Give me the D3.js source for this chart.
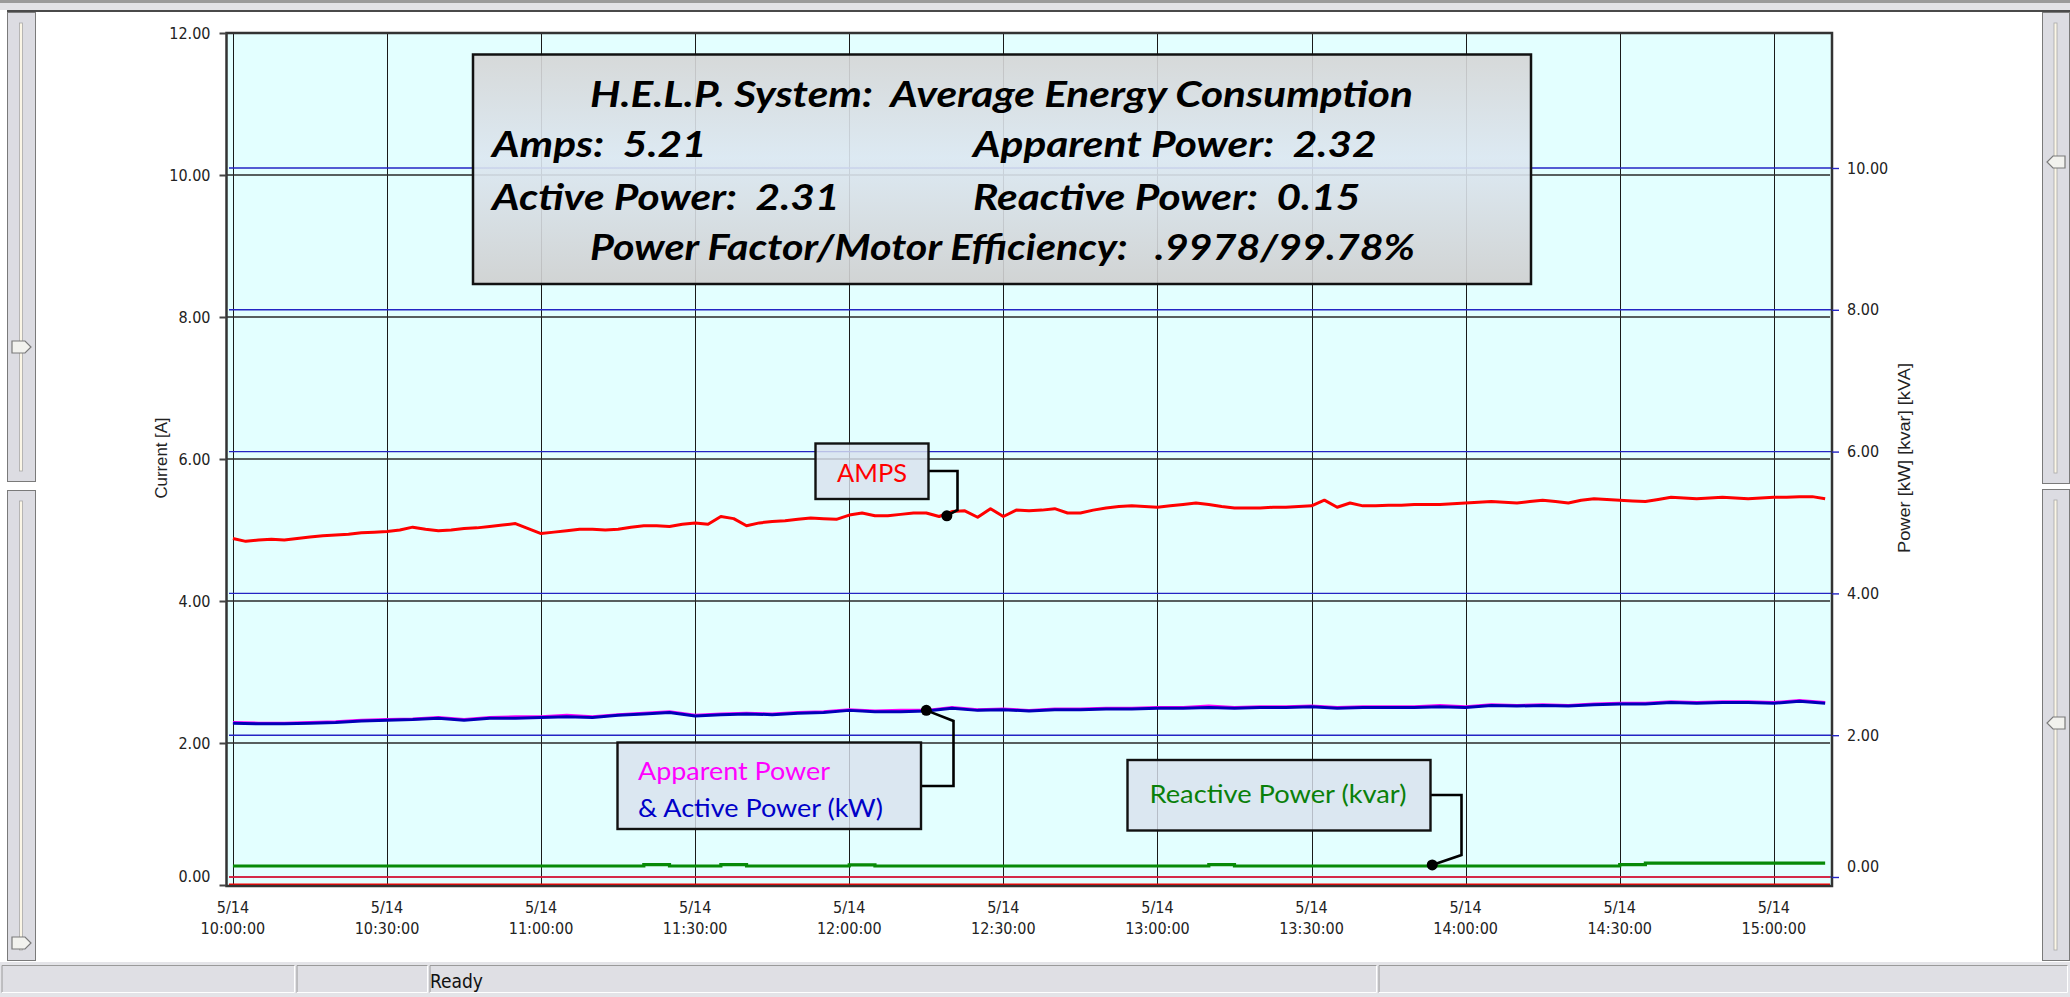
<!DOCTYPE html>
<html>
<head>
<meta charset="utf-8">
<script src="https://cdn.jsdelivr.net/npm/d3@7"></script>
<style>
  html, body { margin: 0; padding: 0; background: #fff; overflow: hidden; }
  svg { display: block; }
</style>
</head>
<body>
<script>
// values, 5/14 from 10:00 to about 15:10
const day = "2013-05-14";
const startTime = "10:00:00";

// current [A], one sample every 2.5 min
const ampsStepMinutes = 2.5;
const amps = [
  4.88, 4.84, 4.86, 4.87, 4.86, 4.88, 4.90, 4.92, 4.93, 4.94,
  4.96, 4.97, 4.98, 5.00, 5.04, 5.01, 4.99, 5.00, 5.02, 5.03,
  5.05, 5.07, 5.09, 5.02, 4.95, 4.97, 4.99, 5.01, 5.01, 5.00,
  5.01, 5.04, 5.06, 5.06, 5.05, 5.08, 5.10, 5.08, 5.19, 5.16,
  5.06, 5.10, 5.12, 5.13, 5.15, 5.17, 5.16, 5.15, 5.21, 5.24,
  5.20, 5.20, 5.22, 5.24, 5.24, 5.19, 5.26, 5.27, 5.18, 5.30,
  5.19, 5.28, 5.27, 5.28, 5.30, 5.24, 5.24, 5.28, 5.31, 5.33,
  5.34, 5.33, 5.32, 5.34, 5.36, 5.38, 5.36, 5.33, 5.31, 5.31,
  5.31, 5.32, 5.32, 5.33, 5.34, 5.42, 5.32, 5.38, 5.34, 5.34,
  5.35, 5.35, 5.36, 5.36, 5.36, 5.37, 5.38, 5.39, 5.40, 5.39,
  5.38, 5.40, 5.42, 5.40, 5.38, 5.42, 5.44, 5.43, 5.42, 5.41,
  5.40, 5.43, 5.46, 5.45, 5.44, 5.45, 5.46, 5.45, 5.44, 5.45,
  5.46, 5.46, 5.47, 5.47, 5.44
];

// power [kW] [kVA] [kvar], one sample every 5 min
const powerStepMinutes = 5;
const activePower = [
  2.17, 2.16, 2.16, 2.17, 2.18, 2.20, 2.21, 2.22, 2.24, 2.21,
  2.24, 2.24, 2.25, 2.26, 2.25, 2.28, 2.30, 2.32, 2.27, 2.29,
  2.30, 2.29, 2.31, 2.32, 2.35, 2.33, 2.33, 2.34, 2.38, 2.35,
  2.36, 2.34, 2.36, 2.36, 2.37, 2.37, 2.38, 2.38, 2.39, 2.38,
  2.39, 2.39, 2.40, 2.38, 2.39, 2.39, 2.39, 2.40, 2.39, 2.42,
  2.41, 2.42, 2.41, 2.43, 2.44, 2.44, 2.46, 2.45, 2.46, 2.46,
  2.45, 2.48, 2.45
];
const apparentPower = [
  2.18, 2.17, 2.17, 2.18, 2.19, 2.21, 2.22, 2.23, 2.25, 2.22,
  2.25, 2.26, 2.26, 2.28, 2.26, 2.29, 2.31, 2.33, 2.28, 2.30,
  2.31, 2.30, 2.32, 2.33, 2.36, 2.34, 2.35, 2.35, 2.39, 2.36,
  2.37, 2.35, 2.37, 2.37, 2.38, 2.38, 2.39, 2.39, 2.41, 2.39,
  2.40, 2.40, 2.41, 2.39, 2.40, 2.40, 2.40, 2.42, 2.40, 2.43,
  2.42, 2.43, 2.42, 2.44, 2.45, 2.45, 2.47, 2.46, 2.47, 2.47,
  2.46, 2.49, 2.46
];
const reactivePower = [
  0.155, 0.155, 0.155, 0.155, 0.155, 0.155, 0.155, 0.155, 0.155, 0.155,
  0.155, 0.155, 0.155, 0.155, 0.155, 0.155, 0.175, 0.155, 0.155, 0.175,
  0.155, 0.155, 0.155, 0.155, 0.170, 0.155, 0.155, 0.155, 0.155, 0.155,
  0.155, 0.155, 0.155, 0.155, 0.155, 0.155, 0.155, 0.155, 0.175, 0.155,
  0.155, 0.155, 0.155, 0.155, 0.155, 0.155, 0.155, 0.155, 0.155, 0.155,
  0.155, 0.155, 0.155, 0.155, 0.175, 0.195, 0.195, 0.195, 0.195, 0.195,
  0.195, 0.195, 0.195
];

const leftTicks = [0, 2, 4, 6, 8, 10, 12];
const rightTicks = [0, 2, 4, 6, 8, 10];
const xTickTimes = ["10:00:00", "10:30:00", "11:00:00", "11:30:00", "12:00:00", "12:30:00",
                    "13:00:00", "13:30:00", "14:00:00", "14:30:00", "15:00:00"];
const xTickDate = "5/14";

const summaryTitle = "H.E.L.P. System:  Average Energy Consumption";
const summaryRows = [
  ["Amps:  5.21", "Apparent Power:  2.32"],
  ["Active Power:  2.31", "Reactive Power:  0.15"]
];
const summaryFooter = "Power Factor/Motor Efficiency:   .9978/99.78%";

// callout anchors on the curves (time, value)
const ampsCallout = { time: "12:19:00", value: 5.20 };
const powerCallout = { time: "12:15:00", value: 2.35 };
const reactiveCallout = { time: "13:53:30", value: 0.17 };

// ---------------------------------------------------------------
const width = 2070, height = 997;
const plot = { left: 226.5, right: 1832, top: 33, bottom: 886 };
const tickFont = "'Liberation Sans Narrow', 'DejaVu Sans Condensed', 'Liberation Sans', sans-serif";
const labelFont = "Lato, 'Open Sans', sans-serif";

const parse = d3.timeParse("%Y-%m-%d %H:%M:%S");
const at = s => parse(`${day} ${s}`);
const t0 = at(startTime);
const series = (vals, step) => vals.map((v, i) => ({ t: d3.timeSecond.offset(t0, Math.round(i * step * 60)), v }));

const ampsData = series(amps, ampsStepMinutes);
const activeData = series(activePower, powerStepMinutes);
const apparentData = series(apparentPower, powerStepMinutes);
const reactiveData = series(reactivePower, powerStepMinutes);

// scales
const x = d3.scaleTime()
  .domain([at("09:58:45"), at("15:11:20")])
  .range([plot.left, plot.right]);
const yL = d3.scaleLinear().domain([0, 12]).range([885, 33]);
const yR = d3.scaleLinear().domain([-0.113, 11.904]).range([885, 33]);

const svg = d3.select("body").append("svg")
  .attr("width", width)
  .attr("height", height)
  .attr("viewBox", [0, 0, width, height]);

const defs = svg.append("defs");
const grad = defs.append("linearGradient").attr("id", "boxGrad")
  .attr("x1", 0).attr("y1", 0).attr("x2", 0).attr("y2", 1);
grad.append("stop").attr("offset", "0%").attr("stop-color", "#d5d5d5");
grad.append("stop").attr("offset", "45%").attr("stop-color", "#dce7f1");
grad.append("stop").attr("offset", "100%").attr("stop-color", "#cfcfcf");

// ---- window chrome ----
svg.append("rect").attr("x", 0).attr("y", 0).attr("width", width).attr("height", 3).attr("fill", "#9a9a9a");
svg.append("rect").attr("x", 0).attr("y", 3).attr("width", width).attr("height", 7).attr("fill", "#e2e2e6");
svg.append("rect").attr("x", 7).attr("y", 10).attr("width", width - 7).attr("height", 2).attr("fill", "#4a4a4a");

function slider(g, x0, w, y0, y1, thumbY, pointRight) {
  g.append("rect").attr("x", x0 + 0.5).attr("y", y0 + 0.5).attr("width", w - 1).attr("height", y1 - y0 - 1)
    .attr("fill", "#dcdce2").attr("stroke", "#7a7a7a");
  const gx = x0 + w / 2 - 1;
  g.append("rect").attr("x", gx - 1).attr("y", y0 + 11).attr("width", 3).attr("height", y1 - y0 - 22)
    .attr("fill", "#fbf6e6").attr("stroke", "#a8a8a8").attr("stroke-width", 0.8);
  const a = x0 + 5, b = x0 + w - 5;
  const pts = pointRight
    ? [[a, thumbY - 6], [b - 6, thumbY - 6], [b, thumbY], [b - 6, thumbY + 6], [a, thumbY + 6]]
    : [[b, thumbY - 6], [a + 6, thumbY - 6], [a, thumbY], [a + 6, thumbY + 6], [b, thumbY + 6]];
  g.append("polygon").attr("points", pts.map(p => p.join(",")).join(" "))
    .attr("fill", "#f2f2ee").attr("stroke", "#7a7a7a").attr("stroke-width", 1.2);
}
const chrome = svg.append("g");
slider(chrome, 7, 29, 12, 482, 347, true);
slider(chrome, 7, 29, 490, 961, 943, true);
slider(chrome, 2042, 28, 12, 484, 162, false);
slider(chrome, 2042, 28, 489, 961, 723, false);

// status bar
chrome.append("rect").attr("x", 0).attr("y", 962).attr("width", width).attr("height", 35).attr("fill", "#e4e4e8");
[[2, 295], [297, 428], [430, 1377], [1379, 2068]].forEach(([a, b]) => {
  chrome.append("rect").attr("x", a).attr("y", 965).attr("width", b - a).attr("height", 28)
    .attr("fill", "#dfdfe4");
  chrome.append("path").attr("d", `M${a},992.5V965.5H${b}`).attr("fill", "none").attr("stroke", "#9a9a9a");
  chrome.append("path").attr("d", `M${b - 0.5},965.5V992.5H${a}`).attr("fill", "none").attr("stroke", "#ffffff");
});
chrome.append("text").attr("x", 430).attr("y", 988)
  .attr("font-family", tickFont).attr("font-size", 19).attr("fill", "#111").text("Ready");

// ---- plot area ----
svg.append("rect")
  .attr("x", plot.left).attr("y", plot.top)
  .attr("width", plot.right - plot.left).attr("height", plot.bottom - plot.top)
  .attr("fill", "#e3ffff");

// vertical grid
svg.append("g").selectAll("line").data(xTickTimes).join("line")
  .attr("x1", d => Math.round(x(at(d))) + 0.5).attr("x2", d => Math.round(x(at(d))) + 0.5)
  .attr("y1", plot.top).attr("y2", plot.bottom)
  .attr("stroke", "#1a1a1a").attr("stroke-width", 1);

// horizontal grid, current axis (black)
svg.append("g").selectAll("line").data(leftTicks.filter(d => d > 0 && d < 12)).join("line")
  .attr("x1", plot.left).attr("x2", plot.right - 2)
  .attr("y1", d => yL(d)).attr("y2", d => yL(d))
  .attr("stroke", "#2a2a2a").attr("stroke-width", 1.3);

// horizontal grid, power axis (blue)
svg.append("g").selectAll("line").data(rightTicks).join("line")
  .attr("x1", plot.left + 2.5).attr("x2", plot.right)
  .attr("y1", d => yR(d)).attr("y2", d => yR(d))
  .attr("stroke", "#2424c4").attr("stroke-width", 1.4);

// zero lines in red
svg.append("line")
  .attr("x1", plot.left + 2.5).attr("x2", plot.right - 2)
  .attr("y1", yR(0)).attr("y2", yR(0))
  .attr("stroke", "#ff1a1a").attr("stroke-width", 1.4);
svg.append("line")
  .attr("x1", plot.left + 2.5).attr("x2", plot.right - 2)
  .attr("y1", yL(0) - 0.5).attr("y2", yL(0) - 0.5)
  .attr("stroke", "#ff0000").attr("stroke-width", 2);

// series
const lineL = d3.line().x(d => x(d.t)).y(d => yL(d.v));
const lineR = d3.line().x(d => x(d.t)).y(d => yR(d.v));
const stepR = d3.line().x(d => x(d.t)).y(d => yR(d.v)).curve(d3.curveStepAfter);

svg.append("path").datum(apparentData).attr("d", lineR)
  .attr("fill", "none").attr("stroke", "#ff00ff").attr("stroke-width", 3).attr("stroke-linejoin", "round");
svg.append("path").datum(activeData).attr("d", lineR)
  .attr("fill", "none").attr("stroke", "#0000b8").attr("stroke-width", 3).attr("stroke-linejoin", "round");
svg.append("path").datum(reactiveData).attr("d", stepR)
  .attr("fill", "none").attr("stroke", "#078a07").attr("stroke-width", 3.2);
svg.append("path").datum(ampsData).attr("d", lineL)
  .attr("fill", "none").attr("stroke", "#ff0000").attr("stroke-width", 3).attr("stroke-linejoin", "round");

// frame
svg.append("rect")
  .attr("x", plot.left).attr("y", plot.top)
  .attr("width", plot.right - plot.left).attr("height", plot.bottom - plot.top)
  .attr("fill", "none").attr("stroke", "#333").attr("stroke-width", 2.5);

// left axis
svg.append("g")
  .attr("transform", `translate(${plot.left},0)`)
  .call(d3.axisLeft(yL).tickValues(leftTicks).tickFormat(d3.format(".2f")).tickSize(7).tickPadding(9))
  .call(g => g.select(".domain").remove())
  .call(g => g.selectAll(".tick line").attr("stroke", "#444").attr("stroke-width", 2))
  .call(g => g.selectAll(".tick text")
    .attr("font-family", tickFont).attr("font-size", 16).attr("fill", "#222"))
  .call(g => g.selectAll(".tick text").filter(d => d === 0).attr("dy", "-0.2em"));

// right axis
svg.append("g")
  .attr("transform", `translate(${plot.right},0)`)
  .call(d3.axisRight(yR).tickValues(rightTicks).tickFormat(d3.format(".2f")).tickSize(7).tickPadding(8))
  .call(g => g.select(".domain").remove())
  .call(g => g.selectAll(".tick line").attr("stroke", "#2424c4").attr("stroke-width", 1.4))
  .call(g => g.selectAll(".tick text")
    .attr("font-family", tickFont).attr("font-size", 16).attr("fill", "#222"))
  .call(g => g.selectAll(".tick text").filter(d => d === 0).attr("dy", "-0.33em"));

// time axis labels
const xl = svg.append("g")
  .attr("font-family", tickFont).attr("font-size", 16).attr("fill", "#222")
  .attr("text-anchor", "middle")
  .selectAll("text").data(xTickTimes).join("text")
  .attr("transform", d => `translate(${x(at(d))},0)`);
xl.append("tspan").attr("x", 0).attr("y", 913).text(xTickDate);
xl.append("tspan").attr("x", 0).attr("y", 934).text(d => d);

// axis titles
svg.append("text")
  .attr("transform", "translate(167,458) rotate(-90)")
  .attr("text-anchor", "middle")
  .attr("font-family", "'Liberation Sans', Arial, sans-serif").attr("font-size", 16).attr("fill", "#222")
  .attr("textLength", 81).attr("lengthAdjust", "spacingAndGlyphs")
  .text("Current [A]");
svg.append("text")
  .attr("transform", "translate(1910,458) rotate(-90)")
  .attr("text-anchor", "middle")
  .attr("font-family", "'Liberation Sans', Arial, sans-serif").attr("font-size", 16).attr("fill", "#222")
  .attr("textLength", 190).attr("lengthAdjust", "spacingAndGlyphs")
  .text("Power [kW] [kvar] [kVA]");

// ---- callouts ----
function callout(box, lines, elbow, anchor) {
  const g = svg.append("g");
  g.append("path")
    .attr("d", `M${box.x + box.w},${elbow.y0}H${elbow.x}V${elbow.y1}L${anchor[0]},${anchor[1]}`)
    .attr("fill", "none").attr("stroke", "#000").attr("stroke-width", 2.6);
  g.append("circle").attr("cx", anchor[0]).attr("cy", anchor[1]).attr("r", 5.5).attr("fill", "#000");
  g.append("rect").attr("x", box.x).attr("y", box.y).attr("width", box.w).attr("height", box.h)
    .attr("fill", "#d9e2ee").attr("fill-opacity", 0.82)
    .attr("stroke", "#111").attr("stroke-width", 2.4);
  lines.forEach(l => {
    g.append("text")
      .attr("x", l.x).attr("y", l.y)
      .attr("text-anchor", l.anchor || "start")
      .attr("font-family", labelFont).attr("font-size", 25).attr("fill", l.color)
      .attr("textLength", l.len).attr("lengthAdjust", "spacingAndGlyphs")
      .text(l.text);
  });
}

callout({ x: 815.5, y: 443.5, w: 113, h: 55.5 },
  [{ text: "AMPS", x: 872, y: 482, len: 70, anchor: "middle", color: "#ff0000" }],
  { y0: 471, x: 957.5, y1: 510 },
  [x(at(ampsCallout.time)), yL(ampsCallout.value)]);

callout({ x: 617.5, y: 742.5, w: 303.5, h: 86.5 },
  [{ text: "Apparent Power", x: 638, y: 780, len: 192, color: "#ff00ff" },
   { text: "& Active Power (kW)", x: 638, y: 817, len: 245, color: "#0000c8" }],
  { y0: 786, x: 953.5, y1: 721 },
  [x(at(powerCallout.time)), yR(powerCallout.value)]);

callout({ x: 1127.5, y: 760, w: 303, h: 70.5 },
  [{ text: "Reactive Power (kvar)", x: 1278, y: 803, len: 257, anchor: "middle", color: "#0a800a" }],
  { y0: 795, x: 1461.5, y1: 855 },
  [x(at(reactiveCallout.time)), yR(reactiveCallout.value)]);

// ---- summary box ----
const sb = svg.append("g");
sb.append("rect").attr("x", 473).attr("y", 54.5).attr("width", 1058).attr("height", 229.5)
  .attr("fill", "url(#boxGrad)").attr("fill-opacity", 0.9)
  .attr("stroke", "#111").attr("stroke-width", 2.5);
const sumText = (txt, x0, y0) => sb.append("text")
  .attr("x", x0).attr("y", y0)
  .attr("font-family", labelFont).attr("font-size", 37).attr("font-weight", 700).attr("font-style", "italic")
  .attr("fill", "#000").style("white-space", "pre")
  .text(txt);
const rows = [
  sumText(summaryTitle, 590, 107),
  sumText(summaryRows[0][0], 492, 157),
  sumText(summaryRows[0][1], 973, 157),
  sumText(summaryRows[1][0], 492, 210),
  sumText(summaryRows[1][1], 973, 210),
  sumText(summaryFooter, 590, 260)
];
// squeeze every row by the same factor so the title spans its width in the original
const squeeze = 823 / rows[0].node().getComputedTextLength();
rows.forEach(r => r
  .attr("textLength", r.node().getComputedTextLength() * squeeze)
  .attr("lengthAdjust", "spacingAndGlyphs"));
// the footer ends a little earlier in the original
rows[5].attr("textLength", 825);
</script>
</body>
</html>
